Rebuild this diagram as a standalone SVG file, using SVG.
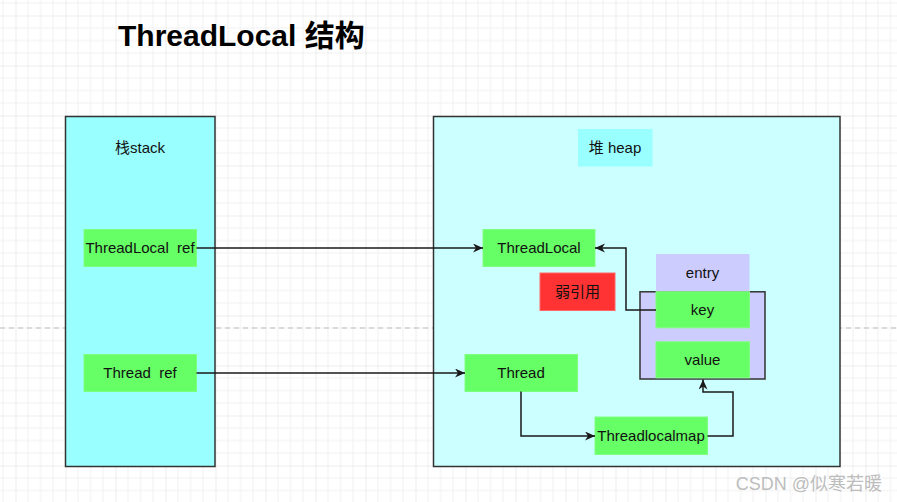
<svg xmlns="http://www.w3.org/2000/svg" width="897" height="502" viewBox="0 0 897 502">
  <defs>
    <pattern id="grid" patternUnits="userSpaceOnUse" x="15.5" y="15.5" width="50" height="50">
      <path d="M12.5,0V50M25,0V50M37.5,0V50M0,12.5H50M0,25H50M0,37.5H50" stroke="#f0f0f0" stroke-width="1" fill="none"/>
      <path d="M0,0V50M0,0H50" stroke="#dadada" stroke-width="1" fill="none"/>
    </pattern>
    <marker id="arrow" markerUnits="userSpaceOnUse" markerWidth="12" markerHeight="10" refX="10" refY="4.5" orient="auto">
      <path d="M0,0 L10,4.5 L0,9 L3,4.5 Z" fill="#1a1a1a"/>
    </marker>
  </defs>
  <style>
    .lbl { font-family: "Liberation Sans", Arial, "Noto Sans CJK SC", sans-serif; font-size: 15px; fill: #111; text-anchor: middle; white-space: pre; }
    .green { fill: #66ff66; stroke: #7fff7f; stroke-width: 1; }
    .container { stroke: #333; stroke-width: 1.5; }
    .conn { fill: none; stroke: #1a1a1a; stroke-width: 1.5; marker-end: url(#arrow); }
  </style>

  <rect x="0" y="0" width="897" height="502" fill="#ffffff"/>
  <rect x="0" y="0" width="897" height="502" fill="url(#grid)"/>
  <line x1="0" y1="328" x2="897" y2="328" stroke="#d0d0d0" stroke-width="1.5" stroke-dasharray="5,4"/>

  <text x="118" y="46" font-family="'Liberation Sans', Arial, 'Noto Sans CJK SC', sans-serif" font-size="30" font-weight="bold" fill="#000">ThreadLocal 结构</text>

  <g id="stack">
    <rect class="container" x="65.5" y="116.5" width="149.5" height="350" fill="#99ffff"/>
    <text class="lbl" x="140" y="153">栈stack</text>
  </g>
  <g id="heap">
    <rect class="container" x="433.5" y="116.5" width="406.5" height="350" fill="#ccffff"/>
  </g>
  <g id="heap-label">
    <rect x="578" y="129" width="74.5" height="37.5" fill="#99ffff"/>
    <text class="lbl" x="615" y="153">堆 heap</text>
  </g>

  <g id="threadlocal-ref">
    <rect class="green" x="84" y="229.5" width="112.5" height="37"/>
    <text class="lbl" x="140" y="253" xml:space="preserve">ThreadLocal  ref</text>
  </g>
  <g id="thread-ref">
    <rect class="green" x="84" y="354.5" width="112.5" height="37"/>
    <text class="lbl" x="140" y="378" xml:space="preserve">Thread  ref</text>
  </g>

  <g id="threadlocal">
    <rect class="green" x="483" y="229.5" width="112" height="37"/>
    <text class="lbl" x="539" y="253">ThreadLocal</text>
  </g>
  <g id="weak-ref">
    <rect x="540" y="273" width="75" height="37.5" fill="#ff3333" stroke="#ff6666" stroke-width="1"/>
    <text class="lbl" x="577.5" y="297">弱引用</text>
  </g>

  <g id="entry">
    <rect class="container" x="640" y="291.8" width="125" height="87.2" fill="#ccccff"/>
    <rect x="656" y="254" width="93.5" height="37.5" fill="#ccccff"/>
    <text class="lbl" x="702.5" y="278">entry</text>
  </g>
  <g id="key">
    <rect class="green" x="656" y="291.8" width="93.5" height="36"/>
    <text class="lbl" x="702.5" y="315">key</text>
  </g>
  <g id="value">
    <rect class="green" x="656" y="341.8" width="93.5" height="36"/>
    <text class="lbl" x="702.5" y="365">value</text>
  </g>

  <g id="thread">
    <rect class="green" x="465" y="354.5" width="112.5" height="37"/>
    <text class="lbl" x="521" y="378">Thread</text>
  </g>
  <g id="threadlocalmap">
    <rect class="green" x="595" y="417" width="112.5" height="37.5"/>
    <text class="lbl" x="651" y="441">Threadlocalmap</text>
  </g>

  <g id="connectors">
    <path class="conn" d="M196.5,248 H483"/>
    <path class="conn" d="M196.5,373 H465"/>
    <path class="conn" d="M656,310 H626 V248 H595"/>
    <path class="conn" d="M521,391.5 V436 H595"/>
    <path class="conn" d="M707.5,436 H733 V392 H703 V379.5"/>
  </g>

  <text x="882" y="490" text-anchor="end" font-family="'Liberation Sans', Arial, 'Noto Sans CJK SC', sans-serif" font-size="18" fill="#bdbdbd">CSDN @似寒若暖</text>
</svg>
